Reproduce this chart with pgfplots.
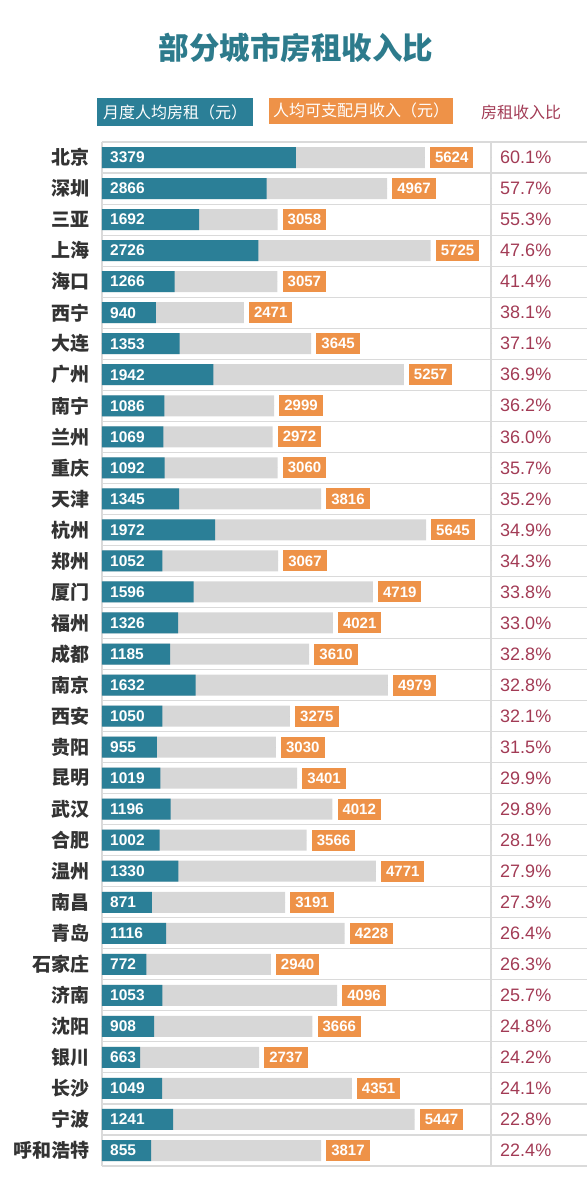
\documentclass[border=0pt]{standalone}
\usepackage{pgfplots}
\pgfplotsset{compat=1.18}
\usepackage{pgfplotstable}
\usepackage{fontspec}
\setmainfont{Liberation Sans}
\newfontfamily\cjk{Noto Sans CJK SC}
\definecolor{rentteal}{HTML}{2B7F97}
\definecolor{titleteal}{HTML}{2D7B8C}
\definecolor{incorange}{HTML}{EE9248}
\definecolor{bargray}{HTML}{D7D7D7}
\definecolor{ratiored}{HTML}{A23B55}
\definecolor{linegray}{HTML}{DADADA}
\definecolor{citytext}{HTML}{333333}

\pgfplotstableread{
city rent income ratio
北京 3379 5624 60.1
深圳 2866 4967 57.7
三亚 1692 3058 55.3
上海 2726 5725 47.6
海口 1266 3057 41.4
西宁 940 2471 38.1
大连 1353 3645 37.1
广州 1942 5257 36.9
南宁 1086 2999 36.2
兰州 1069 2972 36.0
重庆 1092 3060 35.7
天津 1345 3816 35.2
杭州 1972 5645 34.9
郑州 1052 3067 34.3
厦门 1596 4719 33.8
福州 1326 4021 33.0
成都 1185 3610 32.8
南京 1632 4979 32.8
西安 1050 3275 32.1
贵阳 955 3030 31.5
昆明 1019 3401 29.9
武汉 1196 4012 29.8
合肥 1002 3566 28.1
温州 1330 4771 27.9
南昌 871 3191 27.3
青岛 1116 4228 26.4
石家庄 772 2940 26.3
济南 1053 4096 25.7
沈阳 908 3666 24.8
银川 663 2737 24.2
长沙 1049 4351 24.1
宁波 1241 5447 22.8
呼和浩特 855 3817 22.4
}\datatable

\begin{document}
\begin{tikzpicture}
\path[use as bounding box] (0pt,0pt) rectangle (587pt,-1178pt);
\node[font=\cjk\bfseries\fontsize{30.5}{31}\selectfont, text=titleteal] at (296pt,-48pt) {部分城市房租收入比};
\node[fill=rentteal, text=white, minimum width=156pt, minimum height=28pt, inner sep=0pt, font=\cjk\fontsize{16}{16}\selectfont] at (175pt,-112pt) {月度人均房租（元）};
\node[fill=incorange, text=white, minimum width=184pt, minimum height=26pt, inner sep=0pt, font=\cjk\fontsize{16}{16}\selectfont] at (361pt,-110.5pt) {人均可支配月收入（元）};
\node[text=ratiored, inner sep=0pt, font=\cjk\fontsize{16}{16}\selectfont] at (521pt,-112pt) {房租收入比};
\begin{axis}[
  at={(102pt,-142pt)}, anchor=north west,
  scale only axis, width=485pt, height=1024pt,
  xmin=0, xmax=8449, ymin=-0.5, ymax=32.5, y dir=reverse,
  axis line style={draw=none},
  tick style={draw=none},
  major tick length=0pt, minor tick length=0pt,
  xtick={0,6777}, xticklabels={}, xmajorgrids,
  major grid style={draw=linegray, line width=1.1pt},
  ytick={0,...,32}, yticklabels from table={\datatable}{city},
  minor ytick={-0.5,0.5,...,32.5}, yminorgrids,
  minor grid style={draw=linegray, line width=1.1pt},
  yticklabel style={font=\cjk\bfseries\fontsize{19}{19}\selectfont, text=citytext, inner sep=0pt, xshift=-12pt},
  clip=false,
]
\addplot[xbar, bar width=21pt, bar shift=0pt, fill=bargray, draw=none]
  table[x=income, y expr=\coordindex] {\datatable};
\addplot[xbar, bar width=21pt, bar shift=0pt, fill=rentteal, draw=none]
  table[x=rent, y expr=\coordindex] {\datatable};
\addplot[only marks, mark=*, mark size=0pt, mark options={draw=none, fill=none},
  nodes near coords, point meta=explicit symbolic,
  every node near coord/.append style={anchor=west, inner sep=0pt, xshift=8pt, text=white, font=\bfseries\fontsize{15.5}{15.5}\selectfont}]
  table[x expr=0, y expr=\coordindex, meta=rent] {\datatable};
\addplot[only marks, mark=*, mark size=0pt, mark options={draw=none, fill=none},
  nodes near coords, point meta=explicit symbolic,
  every node near coord/.append style={anchor=west, xshift=5pt, fill=incorange, text=white, inner xsep=5pt, inner ysep=0pt, minimum height=21pt, font=\bfseries\fontsize{15}{15}\selectfont}]
  table[x=income, y expr=\coordindex, meta=income] {\datatable};
\addplot[only marks, mark=*, mark size=0pt, mark options={draw=none, fill=none},
  nodes near coords={\pgfplotspointmeta\%}, point meta=explicit symbolic,
  every node near coord/.append style={anchor=west, inner sep=0pt, xshift=9pt, text=ratiored, font=\fontsize{18}{18}\selectfont}]
  table[x expr=6777, y expr=\coordindex, meta=ratio] {\datatable};
\end{axis}
\end{tikzpicture}
\end{document}
